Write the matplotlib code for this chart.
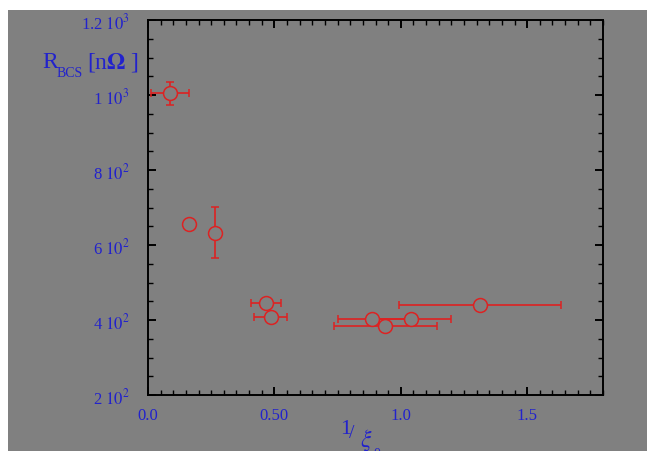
import matplotlib
matplotlib.use('Agg')
import matplotlib.pyplot as plt
from matplotlib.patches import Rectangle
from matplotlib.ticker import FixedLocator, FixedFormatter, MultipleLocator

# data
inv_xi = [0.087, 0.162, 0.265, 0.466, 0.486, 0.885, 1.042, 0.939, 1.312]
r_bcs = [1005, 656, 633, 445, 408, 403, 403, 385, 440]
inv_xi_err = [0.075, 0.0, 0.015, 0.06, 0.065, 0.135, 0.155, 0.205, 0.32]
r_bcs_err = [31, 0, 68, 0, 0, 0, 0, 0, 0]

x_ticks = [0.0, 0.5, 1.0, 1.5]
x_labels = ['0.0', '0.50', '1.0', '1.5']
y_ticks = [200, 400, 600, 800, 1000, 1200]
y_labels = ['2 $10^{2}$', '4 $10^{2}$', '6 $10^{2}$', '8 $10^{2}$', '1 $10^{3}$', '1.2 $10^{3}$']

plt.rcParams['font.family'] = 'Liberation Serif'
plt.rcParams['mathtext.fontset'] = 'stix'

gray = '#808080'
red = '#dd2222'
blue = '#2222cc'

fig = plt.figure(figsize=(6.47, 4.52), dpi=100, facecolor='white')
fig.patches.append(Rectangle((8 / 647, 0), 1, 1 - 11 / 452, transform=fig.transFigure,
                             facecolor=gray, edgecolor='none', zorder=-10))
ax = fig.add_axes([148 / 647, 56 / 452, 455 / 647, 375 / 452])
ax.set_facecolor(gray)

ax.errorbar(inv_xi, r_bcs, xerr=inv_xi_err, yerr=r_bcs_err, fmt='o', color=red,
            ecolor=red, elinewidth=1.2, capsize=3, capthick=1.2,
            markersize=10, markerfacecolor=gray, markeredgecolor=red, markeredgewidth=1.1)

ax.set_xlim(0, 1.8)
ax.set_ylim(200, 1200)
ax.xaxis.set_major_locator(FixedLocator(x_ticks))
ax.xaxis.set_major_formatter(FixedFormatter(x_labels))
ax.xaxis.set_minor_locator(MultipleLocator(0.05))
ax.yaxis.set_major_locator(FixedLocator(y_ticks))
ax.yaxis.set_major_formatter(FixedFormatter(y_labels))
ax.yaxis.set_minor_locator(MultipleLocator(50))

for s in ax.spines.values():
    s.set_linewidth(1.4)
ax.tick_params(which='both', direction='in', top=True, right=True, colors='black',
               labelcolor=blue, labelsize=12)
ax.tick_params(which='major', length=6, width=1.4)
ax.tick_params(which='minor', length=3.5, width=1.0)
ax.tick_params(axis='y', pad=13)
ax.tick_params(axis='x', pad=9)

# axis labels
fig.text(42 / 647, 1 - 68 / 452, r'R', color=blue, fontsize=17)
fig.text(57 / 647, 1 - 77 / 452, r'BCS', color=blue, fontsize=10)
fig.text(87 / 647, 1 - 68 / 452, r'[n$\mathbf{\Omega}$ ]', color=blue, fontsize=17)

fig.text(340 / 647, 1 - 434 / 452, '1', color=blue, fontsize=16)
fig.text(349 / 647, 1 - 438 / 452, '/', color=blue, fontsize=14)
fig.text(360 / 647, 1 - 447 / 452, r'$\xi$', color=blue, fontsize=17)
fig.text(374 / 647, 1 - 458 / 452, '0', color=blue, fontsize=10)

fig.savefig('out.png', dpi=100, facecolor='white')
